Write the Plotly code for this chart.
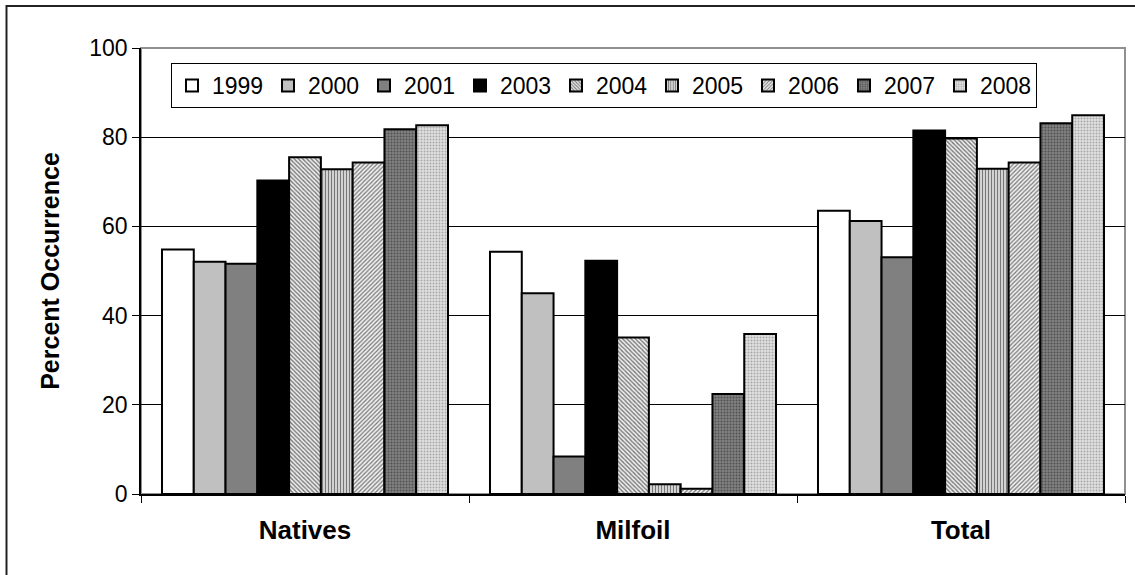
import plotly.graph_objects as go

categories = ["Natives", "Milfoil", "Total"]
years = ["1999", "2000", "2001", "2003", "2004", "2005", "2006", "2007", "2008"]
v1999 = [54.8, 54.3, 63.5]
v2000 = [52.1, 45.0, 61.2]
v2001 = [51.6, 8.4, 53.1]
v2003 = [70.3, 52.3, 81.5]
v2004 = [75.5, 35.1, 79.7]
v2005 = [72.8, 2.2, 72.9]
v2006 = [74.3, 1.2, 74.3]
v2007 = [81.8, 22.4, 83.1]
v2008 = [82.7, 35.9, 84.9]
values = [v1999, v2000, v2001, v2003, v2004, v2005, v2006, v2007, v2008]

styles = [
    dict(color="white"),
    dict(color="#C0C0C0"),
    dict(color="#808080"),
    dict(color="black"),
    dict(color="white", pattern=dict(shape="\\", bgcolor="#F0F0F0", fgcolor="black", size=3, solidity=0.45)),
    dict(color="white", pattern=dict(shape="|", bgcolor="#F0F0F0", fgcolor="black", size=3, solidity=0.5)),
    dict(color="white", pattern=dict(shape="/", bgcolor="#F0F0F0", fgcolor="black", size=3, solidity=0.4)),
    dict(color="#808080", pattern=dict(shape=".", bgcolor="#808080", fgcolor="#202020", size=3, solidity=0.35)),
    dict(color="#C0C0C0", pattern=dict(shape=".", bgcolor="#E0E0E0", fgcolor="#707070", size=3, solidity=0.35)),
]

fig = go.Figure()
for name, vals, st in zip(years, values, styles):
    fig.add_trace(go.Bar(
        name=name, x=categories, y=vals,
        marker=dict(line=dict(color="black", width=2), **st),
    ))

L, R, T, B = 141, 10, 48, 81
W, H = 1135, 575
pw, ph = W - L - R, H - T - B
FONT = "Liberation Sans, Arial, sans-serif"

fig.update_layout(
    width=W, height=H,
    margin=dict(l=L, r=R, t=T, b=B, pad=0),
    paper_bgcolor="white", plot_bgcolor="white",
    barmode="group", bargap=0.128, bargroupgap=0,
    font=dict(family=FONT, size=23, color="black"),
    showlegend=True,
    legend=dict(
        orientation="h", x=(171 - L) / pw, y=(H - B - 63) / ph,
        xanchor="left", yanchor="top",
        bgcolor="white", bordercolor="black", borderwidth=1,
        font=dict(size=23), itemwidth=30, traceorder="normal",
        entrywidth=51, entrywidthmode="pixels",
    ),
    xaxis=dict(
        showline=True, linecolor="black", linewidth=1.5,
        ticks="outside", ticklen=7, tickcolor="black", tickson="boundaries",
        ticklabelstandoff=12,
        tickfont=dict(size=26, family=FONT, weight="bold"),
    ),
    yaxis=dict(
        range=[0, 100], tickvals=[0, 20, 40, 60, 80, 100],
        showline=True, linecolor="black", linewidth=1.5,
        ticks="outside", ticklen=7, tickcolor="black",
        showgrid=True, gridcolor="black", gridwidth=1,
        zeroline=False,
        tickfont=dict(size=23),
        title=dict(text="<b>Percent Occurrence</b>", font=dict(size=25), standoff=23),
    ),
    shapes=[
        dict(type="rect", xref="paper", yref="paper", x0=0, x1=1, y0=0, y1=1,
             line=dict(color="#909090", width=2), layer="below"),
        dict(type="rect", xref="paper", yref="paper",
             x0=(6.5 - L) / pw, x1=(W + 20 - L) / pw,
             y0=-(B + 20) / ph, y1=(H - B - 6) / ph,
             line=dict(color="#222222", width=2), fillcolor="rgba(0,0,0,0)", layer="above"),
    ],
)

fig.write_html("out.html", config={"displayModeBar": False},
               post_script="document.body.style.margin='0px';")
